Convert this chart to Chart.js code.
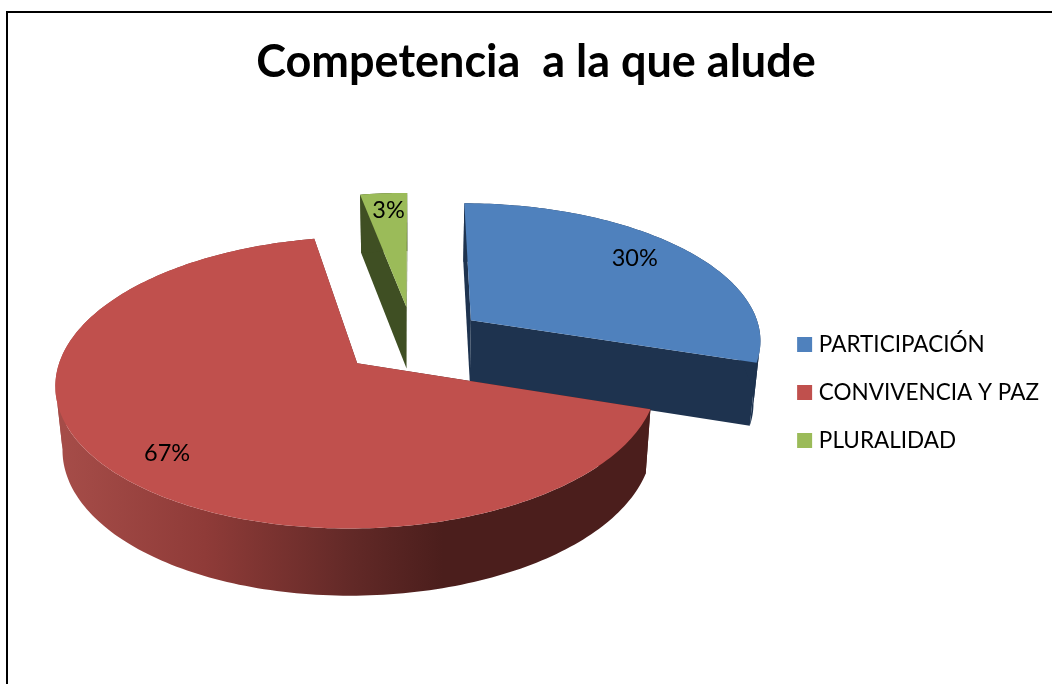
<!DOCTYPE html>
<html lang="es">
<head>
<meta charset="utf-8">
<title>Competencia a la que alude</title>
<script src="https://cdn.jsdelivr.net/npm/chart.js@4"></script>
<style>
html,body{margin:0;padding:0;background:#fff;width:1052px;height:684px;overflow:hidden}
#frame{position:absolute;left:6px;top:11px;width:1100px;height:760px;border:2px solid #000;box-sizing:border-box}
#c{position:absolute;left:6px;top:12px}
</style>
</head>
<body>
<div id="frame"></div>
<canvas id="c" width="1060" height="786"></canvas>
<script>
const TITLE = 'Competencia  a la que alude';
const categories = ['PARTICIPACIÓN', 'CONVIVENCIA Y PAZ', 'PLURALIDAD'];
const percentages = [30, 67, 3];
const topColors = ['#4f81bd', '#c0504d', '#9bbb59'];
const sideColors = ['#1e334f', null, '#3f4f23'];
const drawOrder = [2, 0, 1];
// Where each percentage label sits on its slice: [clock angle in degrees, radius fraction]
const labelAngles = [51.5, 224.6, 355];
const labelRadii = [0.795, 0.817, 0.83];
// Rim shading of the large slice, left to right
const rimStops = [0, 0.37, 0.76, 1];
const rimColors = ['#a54c48', '#8f3b38', '#622927', '#4b1e1c'];

// 3D look of the pie
const RADIUS = 148, EXPLODE = 37;
const SCALE_X = 1.97, SCALE_Y = 0.926, PERSPECTIVE = 0.131;
const DEPTH = 62.5, DEPTH_PERSPECTIVE = 0.06, FLOOR_SHRINK = 0.98;
const SHIFT_X = 13.5, SHIFT_Y = -96;
const FONT = 'Lato, Carlito, Calibri, sans-serif';

const pie3d = {
  id: 'pie3d',
  beforeDatasetsDraw(chart) {
    const ctx = chart.ctx;
    const arcs = chart.getDatasetMeta(0).data;
    const first = arcs[0];
    const bx = first.x + SHIFT_X, by = first.y + SHIFT_Y, R = first.outerRadius;
    const top = (X, Y) => {
      const p = 1 / (1 + PERSPECTIVE * Y);
      return [bx + R * SCALE_X * X * p, by - R * SCALE_Y * Y * p];
    };
    const floor = (X, Y) => {
      const t = top(X, Y);
      return [bx + (t[0] - bx) * FLOOR_SHRINK, t[1] + DEPTH / (1 + DEPTH_PERSPECTIVE * Y)];
    };
    const outline = (el) => {
      const a = el.startAngle, b = el.endAngle, mid = (a + b) / 2;
      const off = el.options.offset / R;
      const ax = off * Math.cos(mid), ay = -off * Math.sin(mid);
      const pts = [[ax, ay]];
      const n = Math.max(2, Math.ceil((b - a) / 0.02));
      for (let i = 0; i <= n; i++) {
        const t = a + (b - a) * i / n;
        pts.push([ax + Math.cos(t), ay - Math.sin(t)]);
      }
      return pts;
    };
    const polygon = (screen, style) => {
      ctx.beginPath();
      screen.forEach((s, i) => { if (i) ctx.lineTo(s[0], s[1]); else ctx.moveTo(s[0], s[1]); });
      ctx.closePath();
      ctx.fillStyle = style;
      ctx.fill();
    };
    // Outer wall: split where it turns from facing away to facing the viewer,
    // so each run fills as one simple shape.
    const wall = (arc, style) => {
      const dir = (i) => Math.sign(top(arc[i + 1][0], arc[i + 1][1])[0] - top(arc[i][0], arc[i][1])[0]);
      let start = 0;
      for (let i = 1; i <= arc.length - 1; i++) {
        if (i === arc.length - 1 || dir(i) !== dir(i - 1)) {
          const run = arc.slice(start, i + 1);
          polygon(run.map(p => top(p[0], p[1])).concat(run.slice().reverse().map(p => floor(p[0], p[1]))), style);
          start = i;
        }
      }
    };
    ctx.save();
    const rim = ctx.createLinearGradient(bx - R * 2.35, 0, bx + R * 0.2, 0);
    rimStops.forEach((s, i) => rim.addColorStop(s, rimColors[i]));
    drawOrder.forEach((idx) => {
      const pts = outline(arcs[idx]);
      const style = sideColors[idx] || rim;
      const apex = pts[0], arc = pts.slice(1), a0 = arc[0], a1 = arc[arc.length - 1];
      polygon([top(apex[0], apex[1]), top(a0[0], a0[1]), floor(a0[0], a0[1]), floor(apex[0], apex[1])], style);
      polygon([top(apex[0], apex[1]), top(a1[0], a1[1]), floor(a1[0], a1[1]), floor(apex[0], apex[1])], style);
      wall(arc, style);
      polygon(pts.map(p => top(p[0], p[1])), topColors[idx]);
    });
    ctx.fillStyle = '#000';
    ctx.font = '23.5px ' + FONT;
    ctx.textAlign = 'center';
    ctx.textBaseline = 'middle';
    const total = percentages.reduce((s, v) => s + v, 0);
    arcs.forEach((el, idx) => {
      const mid = (el.startAngle + el.endAngle) / 2, off = el.options.offset / R;
      const t = labelAngles[idx] * Math.PI / 180, r = labelRadii[idx];
      const s = top(off * Math.cos(mid) + r * Math.sin(t), -off * Math.sin(mid) + r * Math.cos(t));
      ctx.fillText(Math.round(percentages[idx] / total * 100) + '%', s[0], s[1]);
    });
    ctx.restore();
    return false;
  }
};

new Chart(document.getElementById('c'), {
  type: 'pie',
  plugins: [pie3d],
  data: {
    labels: categories,
    datasets: [{
      data: percentages,
      backgroundColor: topColors,
      borderWidth: 0,
      offset: EXPLODE,
      radius: RADIUS
    }]
  },
  options: {
    responsive: false,
    animation: false,
    layout: { padding: { bottom: 25, left: 17, right: 17 } },
    plugins: {
      tooltip: { enabled: false },
      title: {
        display: true,
        text: TITLE,
        color: '#000',
        font: { family: FONT, size: 45, weight: 'bold' },
        padding: { top: 23, bottom: 10 }
      },
      legend: {
        position: 'right',
        labels: {
          color: '#000',
          font: { family: FONT, size: 22.5 },
          boxWidth: 6,
          boxHeight: 6,
          padding: 25.5,
          generateLabels(chart) {
            return categories.map((text, i) => ({
              text, index: i,
              fillStyle: topColors[i],
              strokeStyle: topColors[i],
              lineWidth: 9,
              fontColor: '#000',
              hidden: false
            }));
          }
        }
      }
    }
  }
});
</script>
</body>
</html>
